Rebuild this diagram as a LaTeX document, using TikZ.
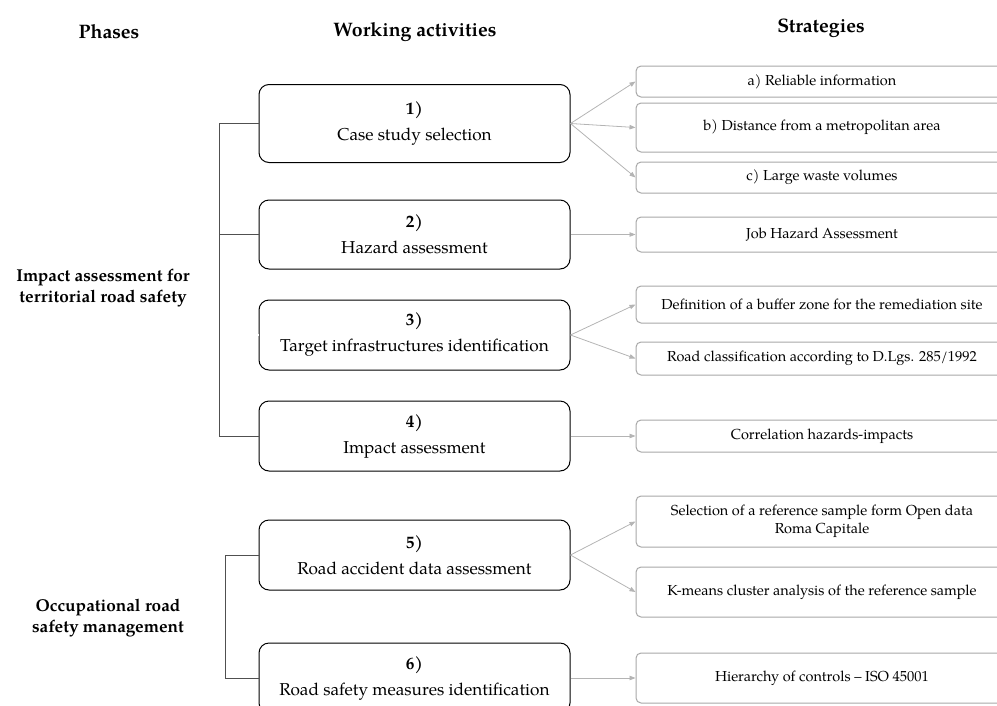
\documentclass[tikz,border=0pt]{standalone}
\usepackage{fontspec}
\setmainfont{TeX Gyre Pagella}
\usetikzlibrary{arrows.meta}
\definecolor{brkgray}{HTML}{505050}
\definecolor{sbord}{HTML}{A8A8A8}
\definecolor{arrgray}{HTML}{B4B4B4}
\tikzset{
  mainbox/.style={draw=black, line width=1pt, rounded corners=10pt, minimum width=311pt, align=center, inner sep=0pt, font=\fontsize{17.2}{26}\selectfont},
  stratbox/.style={draw=sbord, line width=1pt, rounded corners=5pt, minimum width=372pt, align=center, inner sep=0pt, font=\fontsize{14.5}{18}\selectfont},
  hdr/.style={font=\fontsize{19.5}{22}\selectfont\bfseries},
  phase/.style={font=\fontsize{17.2}{21}\selectfont\bfseries, align=center},
  brk/.style={draw=brkgray, line width=0.9pt},
  arr/.style={draw=arrgray, line width=0.8pt, -{Triangle[length=6pt,width=4.5pt]}}
}
\begin{document}
\begin{tikzpicture}[x=1pt,y=-1pt]
\useasboundingbox (0,0) rectangle (997,705);
\clip (0,0) rectangle (997,705);
% headers
\node[hdr] (hph) at (109,32) {Phases};
\node[hdr] (hwa) at (415,32) {Working activities};
\node[hdr] (hst) at (821,28) {Strategies};
% phases
\node[phase] (p1) at (103,288) {Impact assessment for\\territorial road safety};
\node[phase] (p2) at (108,618) {Occupational road\\safety management};
% main boxes
\node[mainbox, minimum height=78pt] (m1) at (414.5,123.5) {\textbf{1)}\\Case study selection};
\node[mainbox, minimum height=69pt] (m2) at (414.5,234.5) {\textbf{2)}\\Hazard assessment};
\node[mainbox, minimum height=70pt] (m3) at (414.5,335) {\textbf{3)}\\Target infrastructures identification};
\node[mainbox, minimum height=70pt] (m4) at (414.5,436) {\textbf{4)}\\Impact assessment};
\node[mainbox, minimum height=70pt] (m5) at (414.5,555) {\textbf{5)}\\Road accident data assessment};
\node[mainbox, minimum height=70pt] (m6) at (414.5,678) {\textbf{6)}\\Road safety measures identification};
% strategy boxes
\node[stratbox, minimum height=31pt] (sa) at (822,81.5) {a) Reliable information};
\node[stratbox, minimum height=49pt] (sb) at (822,127.5) {b) Distance from a metropolitan area};
\node[stratbox, minimum height=31pt] (sc) at (822,177.5) {c) Large waste volumes};
\node[stratbox, minimum height=35pt] (sj) at (822,234.5) {Job Hazard Assessment};
\node[stratbox, minimum height=37pt] (sd) at (822,304.5) {Definition of a buffer zone for the remediation site};
\node[stratbox, minimum height=33pt] (sr) at (822,358.5) {Road classification according to D.Lgs. 285/1992};
\node[stratbox, minimum height=32pt] (sh) at (822,436) {Correlation hazards-impacts};
\node[stratbox, minimum height=51pt] (ss) at (822,521.5) {Selection of a reference sample form Open data\\Roma Capitale};
\node[stratbox, minimum height=50pt] (sk) at (822,592) {K-means cluster analysis of the reference sample};
\node[stratbox, minimum height=50pt] (si) at (822,678) {Hierarchy of controls -- ISO 45001};
% arrows
\draw[arr] (m1.east) -- (sa.west);
\draw[arr] (m1.east) -- (sb.west);
\draw[arr] (m1.east) -- (sc.west);
\draw[arr] (m2.east) -- (sj.west);
\draw[arr] (m3.east) -- (sd.west);
\draw[arr] (m3.east) -- (sr.west);
\draw[arr] (m4.east) -- (sh.west);
\draw[arr] (m5.east) -- (ss.west);
\draw[arr] (m5.east) -- (sk.west);
\draw[arr] (m6.east) -- (si.west);
% brackets
\coordinate (b1) at (219,123.5);
\coordinate (b4) at (219,436);
\draw[brk, line width=0.6pt, double=white, double distance=1.2pt] (m3.west) -- (m3.west -| b1);
\draw[brk] (m1.west) -- (b1) -- (b4) -- (m4.west);
\draw[brk] (m2.west) -- (m2.west -| b1);
\coordinate (b5) at (225,555);
\coordinate (b6) at (225,678);
\draw[brk] (m5.west) -- (b5) -- (b6) -- (m6.west);
\end{tikzpicture}
\end{document}
